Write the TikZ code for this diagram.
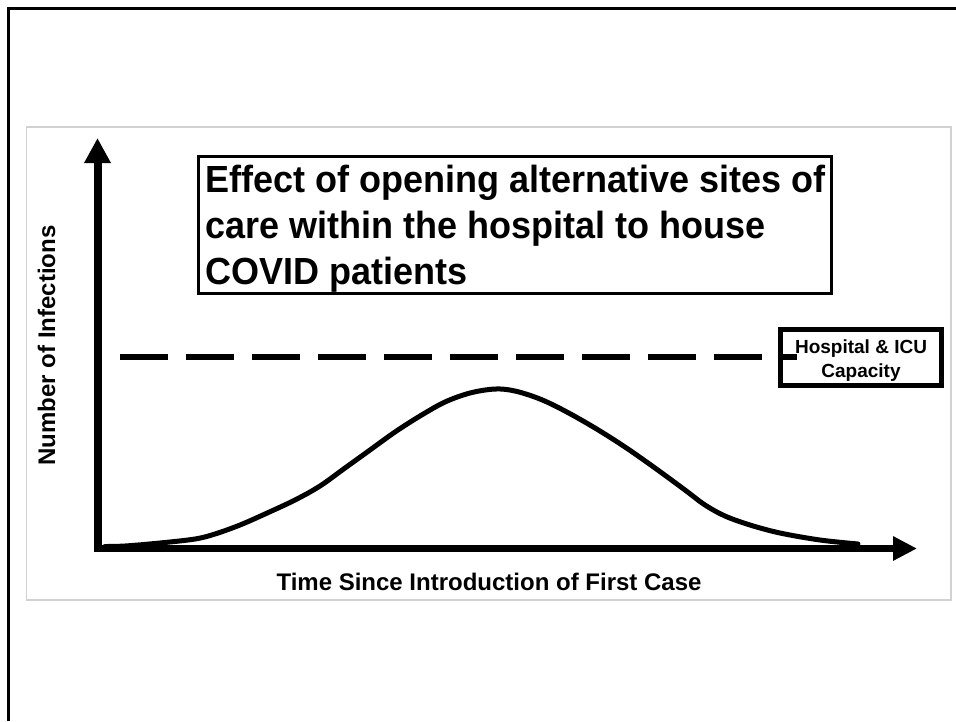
\documentclass[tikz,border=0pt]{standalone}
\usepackage{fontspec}
\setmainfont{Liberation Sans}
\usetikzlibrary{arrows.meta}
\begin{document}
\begin{tikzpicture}[x=1pt,y=-1pt,
  lbl/.style={font=\bfseries\fontsize{24}{29}\selectfont, inner sep=0pt},
  ttl/.style={font=\bfseries\fontsize{36}{44}\selectfont, inner sep=0pt, anchor=base west, yscale=1.05},
  captxt/.style={font=\bfseries\fontsize{19}{23}\selectfont, inner sep=0pt, anchor=base},
  axisline/.style={line width=8pt},
  boxline/.style={draw, inner sep=0pt},
]
\useasboundingbox (0,0) rectangle (956,721);
\fill[white] (0,0) rectangle (956,721);
% page frame (top and left)
\draw[line width=3pt] (8,721) -- (8,8) -- (956,8);
% light slide frame
\draw[black!18, line width=1.2pt] (26.5,127) rectangle (951,600);
% axes
\coordinate (ybot) at (97.5,552);
\coordinate (ytip) at (97.5,138);
\coordinate (xleft) at (93.5,548.5);
\coordinate (xtip) at (917,548.5);
\draw[axisline, -{Triangle[length=25pt,width=25pt]}] (ybot) -- (ytip);
\draw[line width=7pt, -{Triangle[length=24pt,width=23pt]}] (xleft) -- (xtip);
% capacity dashed line
\coordinate (dl) at (120,357);
\coordinate (dr) at (797,357);
% capacity box
\node (capbox) [boxline, line width=5pt, minimum width=161pt, minimum height=56pt] at (861,357.5) {};
\draw[line width=6pt, dash pattern=on 48pt off 18pt] (dl) -- (dr);
\node (cap1) [captxt] at (861,353) {Hospital \& ICU};
\node (cap2) [captxt] at (861,377) {Capacity};
% epidemic curve
\draw[line width=5pt, line join=round, line cap=round] plot[smooth, tension=0.55] coordinates {
 (105,546.5) (125,546) (160,543) (195,539) (215,534) (240,525) (265,514) (295,500)
 (320,486) (345,468) (370,450) (395,432) (420,416) (445,402) (470,393) (495,389)
 (515,391) (540,399) (565,411) (595,428) (625,447) (655,468) (685,490) (705,505)
 (725,516) (750,525) (780,533) (820,540) (858,544)};
% title box
\node (titlebox) [boxline, line width=3pt, minimum width=633pt, minimum height=137pt] at (515,225) {};
\node (t1) [ttl] at (205,192) {Effect of opening alternative sites of};
\node (t2) [ttl] at (205,238) {care within the hospital to house};
\node (t3) [ttl] at (205,284) {COVID patients};
% axis labels
\node (ylab) [lbl, rotate=90, anchor=base] at (55,345.5) {Number of Infections};
\node (xlab) [lbl, anchor=base] at (489,590) {Time Since Introduction of First Case};
\end{tikzpicture}
\end{document}
